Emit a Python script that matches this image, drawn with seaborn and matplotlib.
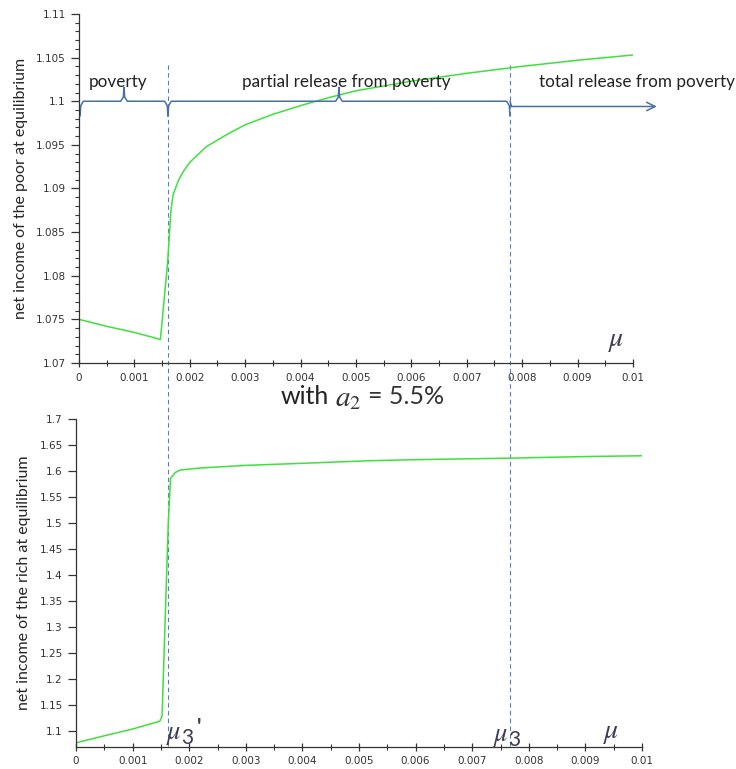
import numpy as np
import pandas as pd
import matplotlib
matplotlib.use("Agg")
import matplotlib.pyplot as plt
from matplotlib.ticker import MultipleLocator, FuncFormatter
import seaborn as sns

# данные
mu_poor = [0, 0.0005, 0.001, 0.00147, 0.0016, 0.00166, 0.0017, 0.0018, 0.0019, 0.002, 0.0023,
           0.0027, 0.003, 0.0035, 0.004, 0.0045, 0.005, 0.006, 0.007, 0.008, 0.009, 0.01]
income_poor = [1.075, 1.0742, 1.0735, 1.0727, 1.0815, 1.0875, 1.0893, 1.0910, 1.0921, 1.0930, 1.0948,
               1.0963, 1.0973, 1.0985, 1.0995, 1.1004, 1.1012, 1.1023, 1.1032, 1.1040, 1.1047, 1.1053]

mu_rich = [0, 0.0005, 0.001, 0.00148, 0.00152, 0.00163, 0.00167, 0.00175, 0.00184, 0.0022,
           0.003, 0.004, 0.0052, 0.006, 0.0077, 0.009, 0.01]
income_rich = [1.0775, 1.091, 1.104, 1.119, 1.129, 1.50, 1.586, 1.597, 1.602, 1.606,
               1.611, 1.615, 1.620, 1.622, 1.625, 1.628, 1.6295]

mu3_prime = 0.001606
mu3 = 0.00778
regions = ["poverty", "partial release from poverty", "total release from poverty"]

green = "#3ee03e"
blue = "#4a6fa5"
dash_blue = "#5580bb"

sns.set_style("ticks")
plt.rcParams["mathtext.fontset"] = "stix"

fig = plt.figure(figsize=(7.36, 7.69), dpi=100)
ax1 = fig.add_axes([0.1073, 0.528, 0.7527, 0.4538])
ax2 = fig.add_axes([0.1033, 0.029, 0.769, 0.426])
ax2.patch.set_alpha(0)

df_poor = pd.DataFrame({"mu": mu_poor, "income": income_poor})
df_rich = pd.DataFrame({"mu": mu_rich, "income": income_rich})
sns.lineplot(data=df_poor, x="mu", y="income", ax=ax1, color=green, lw=1.1)
sns.lineplot(data=df_rich, x="mu", y="income", ax=ax2, color=green, lw=1.1)

fmt = FuncFormatter(lambda v, p: "%g" % round(v, 6))
for ax in (ax1, ax2):
    ax.set_xlim(0, 0.01)
    ax.xaxis.set_major_locator(MultipleLocator(0.001))
    ax.xaxis.set_minor_locator(MultipleLocator(0.0005))
    ax.xaxis.set_major_formatter(fmt)
    ax.yaxis.set_major_formatter(fmt)
    ax.set_xlabel("")
    for s in ("top", "right"):
        ax.spines[s].set_visible(False)
    for s in ("left", "bottom"):
        ax.spines[s].set_color("#333333")
        ax.spines[s].set_linewidth(0.9)
    ax.tick_params(axis="x", which="major", direction="inout", length=6, width=0.9,
                   labelsize=7.5, labelcolor="#333333", color="#333333", pad=4)
    ax.tick_params(axis="x", which="minor", direction="inout", length=4, width=0.8, color="#333333")
    ax.tick_params(axis="y", which="major", direction="out", length=6, width=0.9,
                   labelsize=7.5, labelcolor="#333333", color="#333333")
    ax.tick_params(axis="y", which="minor", direction="out", length=3, width=0.8, color="#333333")

ax1.set_ylim(1.07, 1.11)
ax1.yaxis.set_major_locator(MultipleLocator(0.005))
ax1.yaxis.set_minor_locator(MultipleLocator(0.001))
ax2.set_ylim(1.07, 1.7)
ax2.yaxis.set_minor_locator(plt.NullLocator())
ax2.set_yticks(np.arange(1.1, 1.701, 0.05))

ax1.set_ylabel("net income of the poor at equilibrium", family="Lato", fontsize=11.5, labelpad=6)
ax2.set_ylabel("net income of the rich at equilibrium", family="Lato", fontsize=11.5, labelpad=6)

# вертикальные пунктирные линии через оба графика
for m in (mu3_prime, mu3):
    ax1.axvline(m, ymin=-1.097, ymax=0.862, clip_on=False, color=dash_blue,
                lw=0.8, ls=(0, (4, 3)), zorder=1)


# фигурные скобки
def brace(ax, x0, x1, y, d_end=0.0017, d_tip=0.0016, w=0.00006):
    xm = (x0 + x1) / 2
    xs = [x0, x0 + w * 0.2, x0 + w, xm - w, xm - w * 0.2, xm,
          xm + w * 0.2, xm + w, x1 - w, x1 - w * 0.2, x1]
    ys = [y - d_end, y - d_end * 0.3, y, y, y + d_tip * 0.3, y + d_tip,
          y + d_tip * 0.3, y, y, y - d_end * 0.3, y - d_end]
    ax.plot(xs, ys, color=blue, lw=1.1, clip_on=False)


brace(ax1, 0.00002, mu3_prime, 1.1)
brace(ax1, mu3_prime, mu3, 1.1)
ax1.plot([mu3, mu3 + 0.00003], [1.1, 1.0994], color=blue, lw=1.1)
ax1.annotate("", xy=(0.01043, 1.0994), xytext=(mu3 + 0.00003, 1.0994),
             arrowprops=dict(arrowstyle="->,head_length=0.6,head_width=0.3",
                             color=blue, lw=1.1, shrinkA=0, shrinkB=0),
             annotation_clip=False)

label_y = 1.1022
for xpos, txt in zip([0.0007, 0.00482, 0.01007], regions):
    ax1.text(xpos, label_y, txt, ha="center", va="center", family="Lato",
             fontsize=12.3, color="#222222", clip_on=False)

mu_color = "#3b3b52"
ax1.text(0.0097, 1.0726, r"$\mu$", fontsize=20, ha="center", va="center", color=mu_color)
ax2.text(0.00945, 1.099, r"$\mu$", fontsize=20, ha="center", va="center", color=mu_color)
ax2.text(0.00765, 1.091, r"$\mu$", fontsize=19, ha="right", va="center", color=mu_color)
ax2.text(0.00763, 1.083, "3", family="Lato", fontsize=15, ha="left", va="center", color=mu_color)
ax2.text(0.00187, 1.094, r"$\mu$", fontsize=19, ha="right", va="center", color=mu_color)
ax2.text(0.00185, 1.086, "3", family="Lato", fontsize=15, ha="left", va="center", color=mu_color)
ax2.text(0.00213, 1.108, "'", family="Lato", fontsize=15, fontweight="bold", ha="left",
         va="center", color=mu_color)

fig.text(281 / 736, 0.485, "with", family="Lato", fontsize=18, ha="left", va="center", color="#222222")
fig.text(335 / 736, 0.482, r"$a_2$", fontsize=21, ha="left", va="center", color="#333333")
fig.text(368 / 736, 0.485, "= 5.5%", family="Lato", fontsize=18, ha="left", va="center", color="#333333")

fig.savefig("out.png", dpi=100)
